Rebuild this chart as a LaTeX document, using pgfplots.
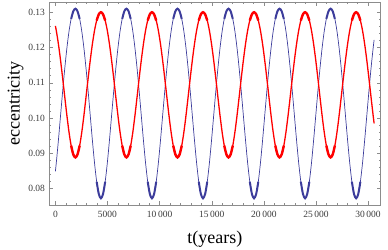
\documentclass[border=0pt]{standalone}
\usepackage{pgfplots}
\usepackage{pgfplotstable}
\pgfplotsset{compat=1.18}
\usepackage{fontspec}
\setmainfont{Liberation Serif}
\definecolor{mblue}{RGB}{60,60,155}
\definecolor{mred}{RGB}{255,0,0}
\definecolor{framegray}{RGB}{140,140,140}
\definecolor{labgray}{RGB}{60,60,60}

\pgfplotstableread{
t b r bx rx
0 0.08483 0.12612 nan nan
85 0.08718 0.12482 nan nan
289 0.09360 0.12102 nan nan
493 0.10056 0.11644 nan nan
697 0.10752 0.11132 nan nan
901 0.11406 0.10595 nan nan
1105 0.11984 0.10069 nan nan
1309 0.12459 0.09595 nan nan
1513 0.12811 0.09214 0.12811 0.09214
1717 0.13027 0.08966 0.13027 0.08966
1921 0.13100 0.08880 0.13100 0.08880
2125 0.13027 0.08966 0.13027 0.08966
2329 0.12811 0.09214 0.12811 0.09214
2533 0.12459 0.09595 nan nan
2737 0.11984 0.10069 nan nan
2941 0.11406 0.10595 nan nan
3145 0.10752 0.11132 nan nan
3349 0.10056 0.11644 nan nan
3553 0.09360 0.12102 nan nan
3757 0.08718 0.12482 nan nan
3961 0.08192 0.12765 0.08192 0.12765
4165 0.07843 0.12941 0.07843 0.12941
4369 0.07720 0.13000 0.07720 0.13000
4574 0.07843 0.12941 0.07843 0.12941
4778 0.08192 0.12765 0.08192 0.12765
4982 0.08718 0.12482 nan nan
5186 0.09360 0.12102 nan nan
5390 0.10056 0.11644 nan nan
5594 0.10752 0.11132 nan nan
5798 0.11406 0.10595 nan nan
6002 0.11984 0.10069 nan nan
6206 0.12459 0.09595 nan nan
6410 0.12811 0.09214 0.12811 0.09214
6614 0.13027 0.08966 0.13027 0.08966
6818 0.13100 0.08880 0.13100 0.08880
7022 0.13027 0.08966 0.13027 0.08966
7226 0.12811 0.09214 0.12811 0.09214
7430 0.12459 0.09595 nan nan
7634 0.11984 0.10069 nan nan
7838 0.11406 0.10595 nan nan
8042 0.10752 0.11132 nan nan
8246 0.10056 0.11644 nan nan
8450 0.09360 0.12102 nan nan
8654 0.08718 0.12482 nan nan
8858 0.08192 0.12765 0.08192 0.12765
9062 0.07843 0.12941 0.07843 0.12941
9266 0.07720 0.13000 0.07720 0.13000
9471 0.07843 0.12941 0.07843 0.12941
9675 0.08192 0.12765 0.08192 0.12765
9879 0.08718 0.12482 nan nan
10083 0.09360 0.12102 nan nan
10287 0.10056 0.11644 nan nan
10491 0.10752 0.11132 nan nan
10695 0.11406 0.10595 nan nan
10899 0.11984 0.10069 nan nan
11103 0.12459 0.09595 nan nan
11307 0.12811 0.09214 0.12811 0.09214
11511 0.13027 0.08966 0.13027 0.08966
11715 0.13100 0.08880 0.13100 0.08880
11919 0.13027 0.08966 0.13027 0.08966
12123 0.12811 0.09214 0.12811 0.09214
12327 0.12459 0.09595 nan nan
12531 0.11984 0.10069 nan nan
12735 0.11406 0.10595 nan nan
12939 0.10752 0.11132 nan nan
13143 0.10056 0.11644 nan nan
13347 0.09360 0.12102 nan nan
13551 0.08718 0.12482 nan nan
13755 0.08192 0.12765 0.08192 0.12765
13959 0.07843 0.12941 0.07843 0.12941
14163 0.07720 0.13000 0.07720 0.13000
14368 0.07843 0.12941 0.07843 0.12941
14572 0.08192 0.12765 0.08192 0.12765
14776 0.08718 0.12482 nan nan
14980 0.09360 0.12102 nan nan
15184 0.10056 0.11644 nan nan
15388 0.10752 0.11132 nan nan
15592 0.11406 0.10595 nan nan
15796 0.11984 0.10069 nan nan
16000 0.12459 0.09595 nan nan
16204 0.12811 0.09214 0.12811 0.09214
16408 0.13027 0.08966 0.13027 0.08966
16612 0.13100 0.08880 0.13100 0.08880
16816 0.13027 0.08966 0.13027 0.08966
17020 0.12811 0.09214 0.12811 0.09214
17224 0.12459 0.09595 nan nan
17428 0.11984 0.10069 nan nan
17632 0.11406 0.10595 nan nan
17836 0.10752 0.11132 nan nan
18040 0.10056 0.11644 nan nan
18244 0.09360 0.12102 nan nan
18448 0.08718 0.12482 nan nan
18652 0.08192 0.12765 0.08192 0.12765
18856 0.07843 0.12941 0.07843 0.12941
19060 0.07720 0.13000 0.07720 0.13000
19265 0.07843 0.12941 0.07843 0.12941
19469 0.08192 0.12765 0.08192 0.12765
19673 0.08718 0.12482 nan nan
19877 0.09360 0.12102 nan nan
20081 0.10056 0.11644 nan nan
20285 0.10752 0.11132 nan nan
20489 0.11406 0.10595 nan nan
20693 0.11984 0.10069 nan nan
20897 0.12459 0.09595 nan nan
21101 0.12811 0.09214 0.12811 0.09214
21305 0.13027 0.08966 0.13027 0.08966
21509 0.13100 0.08880 0.13100 0.08880
21713 0.13027 0.08966 0.13027 0.08966
21917 0.12811 0.09214 0.12811 0.09214
22121 0.12459 0.09595 nan nan
22325 0.11984 0.10069 nan nan
22529 0.11406 0.10595 nan nan
22733 0.10752 0.11132 nan nan
22937 0.10056 0.11644 nan nan
23141 0.09360 0.12102 nan nan
23345 0.08718 0.12482 nan nan
23549 0.08192 0.12765 0.08192 0.12765
23753 0.07843 0.12941 0.07843 0.12941
23957 0.07720 0.13000 0.07720 0.13000
24162 0.07843 0.12941 0.07843 0.12941
24366 0.08192 0.12765 0.08192 0.12765
24570 0.08718 0.12482 nan nan
24774 0.09360 0.12102 nan nan
24978 0.10056 0.11644 nan nan
25182 0.10752 0.11132 nan nan
25386 0.11406 0.10595 nan nan
25590 0.11984 0.10069 nan nan
25794 0.12459 0.09595 nan nan
25998 0.12811 0.09214 0.12811 0.09214
26202 0.13027 0.08966 0.13027 0.08966
26406 0.13100 0.08880 0.13100 0.08880
26610 0.13027 0.08966 0.13027 0.08966
26814 0.12811 0.09214 0.12811 0.09214
27018 0.12459 0.09595 nan nan
27222 0.11984 0.10069 nan nan
27426 0.11406 0.10595 nan nan
27630 0.10752 0.11132 nan nan
27834 0.10056 0.11644 nan nan
28038 0.09360 0.12102 nan nan
28242 0.08718 0.12482 nan nan
28446 0.08192 0.12765 0.08192 0.12765
28650 0.07843 0.12941 0.07843 0.12941
28854 0.07720 0.13000 0.07720 0.13000
29059 0.07843 0.12941 0.07843 0.12941
29263 0.08192 0.12765 0.08192 0.12765
29467 0.08718 0.12482 nan nan
29671 0.09360 0.12102 nan nan
29875 0.10056 0.11644 nan nan
30079 0.10752 0.11132 nan nan
30283 0.11406 0.10595 nan nan
30487 0.11984 0.10069 nan nan
30580 0.12213 0.09845 nan nan
}\data

\begin{document}
\begin{tikzpicture}
\useasboundingbox (-49pt,-44pt) rectangle (339pt,205pt);
\begin{axis}[
  at={(0,0)}, anchor=south west,
  scale only axis,
  width=331.7pt, height=203pt,
  xmin=-612, xmax=31212,
  ymin=0.0753, ymax=0.1329,
  scaled x ticks=false, scaled y ticks=false,
  axis line style={framegray, line width=0.5pt},
  tick style={framegray, line width=0.4pt},
  major tick length=4pt, minor tick length=2pt,
  tick align=inside,
  xtick={0,5000,10000,15000,20000,25000,30000},
  xticklabels={0,5000,10\,000,15\,000,20\,000,25\,000,30\,000},
  ytick={0.08,0.09,0.10,0.11,0.12,0.13},
  yticklabels={0.08,0.09,0.10,0.11,0.12,0.13},
  minor x tick num=4, minor y tick num=4,
  ticklabel style={font=\fontsize{9.5}{11}\selectfont, text=labgray},
  xticklabel style={yshift=-2.5pt},
  yticklabel style={xshift=-0.5pt},
  xlabel={t(years)}, ylabel={eccentricity},
  every axis x label/.style={at={(axis description cs:0.5,-0.1921)}, anchor=base, font=\fontsize{18}{20}\selectfont},
  every axis y label/.style={at={(axis description cs:-0.0889,0.5)}, rotate=90, anchor=base, font=\fontsize{18}{20}\selectfont},
  unbounded coords=jump,
  clip=true,
]
\addplot[mblue, line width=0.7pt, smooth] table[x=t,y=b]{\data};
\addplot[mblue, line width=2.0pt, smooth] table[x=t,y=bx]{\data};
\addplot[mred, line width=1.3pt, smooth] table[x=t,y=r]{\data};
\addplot[mred, line width=2.4pt, smooth] table[x=t,y=rx]{\data};
\end{axis}
\end{tikzpicture}
\end{document}
